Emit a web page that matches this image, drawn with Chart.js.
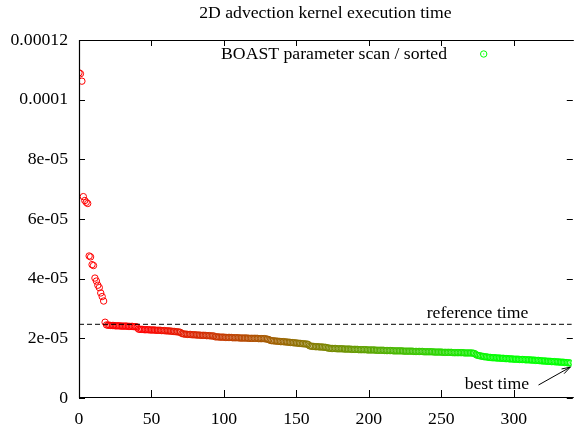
<!DOCTYPE html>
<html><head><meta charset="utf-8">
<script src="https://cdn.jsdelivr.net/npm/chart.js@4.4.0/dist/chart.umd.min.js"></script>
<style>html,body{margin:0;padding:0;background:#fff;overflow:hidden}#wrap{width:576px;height:428px}</style>
</head><body><div id="wrap"><canvas id="c" width="576" height="428"></canvas></div>
<script>
const chartTitle = '2D advection kernel execution time';
const seriesName = 'BOAST parameter scan / sorted';
const refLabel = 'reference time';
const bestLabel = 'best time';
// execution times, in units of 1e-5 s, sorted (index 0..339)
const timesE5 = [
10.90,10.87,10.62,6.75,6.62,6.56,6.52,4.76,4.73,4.47,
4.44,4.02,3.92,3.78,3.70,3.52,3.40,3.25,2.54,2.45,
2.44,2.44,2.43,2.43,2.43,2.42,2.42,2.42,2.42,2.41,
2.41,2.41,2.41,2.41,2.40,2.40,2.40,2.40,2.39,2.39,
2.38,2.31,2.30,2.30,2.30,2.29,2.29,2.29,2.29,2.28,
2.28,2.28,2.28,2.27,2.27,2.27,2.27,2.26,2.26,2.26,
2.25,2.25,2.25,2.24,2.24,2.23,2.23,2.22,2.22,2.21,
2.20,2.16,2.15,2.14,2.14,2.13,2.13,2.13,2.12,2.12,
2.12,2.11,2.11,2.11,2.10,2.10,2.10,2.10,2.09,2.09,
2.09,2.08,2.08,2.08,2.05,2.05,2.05,2.04,2.04,2.04,
2.04,2.03,2.03,2.03,2.03,2.03,2.02,2.02,2.02,2.02,
2.02,2.01,2.01,2.01,2.01,2.01,2.01,2.00,2.00,2.00,
2.00,2.00,2.00,2.00,1.99,1.99,1.99,1.99,1.99,1.98,
1.97,1.96,1.93,1.92,1.92,1.91,1.91,1.90,1.90,1.89,
1.89,1.89,1.88,1.88,1.87,1.87,1.86,1.86,1.85,1.85,
1.84,1.84,1.83,1.83,1.82,1.82,1.81,1.81,1.80,1.75,
1.74,1.73,1.73,1.72,1.72,1.72,1.71,1.71,1.71,1.70,
1.70,1.69,1.67,1.67,1.66,1.66,1.66,1.66,1.65,1.65,
1.65,1.65,1.65,1.64,1.64,1.64,1.64,1.64,1.63,1.63,
1.63,1.63,1.63,1.62,1.62,1.62,1.62,1.62,1.62,1.61,
1.61,1.61,1.61,1.61,1.61,1.60,1.60,1.60,1.60,1.60,
1.60,1.59,1.59,1.59,1.59,1.59,1.59,1.58,1.58,1.58,
1.58,1.58,1.58,1.58,1.57,1.57,1.57,1.57,1.57,1.57,
1.57,1.56,1.56,1.56,1.56,1.56,1.56,1.56,1.55,1.55,
1.55,1.55,1.55,1.55,1.55,1.54,1.54,1.54,1.54,1.54,
1.54,1.53,1.53,1.53,1.53,1.53,1.53,1.53,1.52,1.52,
1.52,1.52,1.52,1.52,1.52,1.52,1.51,1.51,1.51,1.51,
1.51,1.51,1.50,1.49,1.45,1.43,1.42,1.41,1.40,1.39,
1.38,1.38,1.37,1.36,1.36,1.35,1.35,1.35,1.34,1.34,
1.34,1.33,1.33,1.33,1.32,1.32,1.32,1.31,1.31,1.31,
1.30,1.30,1.30,1.30,1.29,1.29,1.29,1.29,1.28,1.28,
1.28,1.28,1.27,1.27,1.27,1.26,1.26,1.26,1.25,1.25,
1.24,1.24,1.24,1.23,1.23,1.23,1.22,1.22,1.22,1.21,
1.21,1.21,1.20,1.20,1.20,1.19,1.19,1.18,1.18,1.17
];
const referenceTimeE5 = 2.47;
const xTicks = [0, 50, 100, 150, 200, 250, 300];
const yTicks = [0, 2e-5, 4e-5, 6e-5, 8e-5, 1e-4, 1.2e-4];
const yTickLabels = ['0', '2e-05', '4e-05', '6e-05', '8e-05', '0.0001', '0.00012'];

const UNIT = 1e-5;
const times = timesE5.map(v => v * UNIT);
const refTime = referenceTimeE5 * UNIT;
const N = times.length;
const X_MAX = 340;

const FONT_FAMILY = "'Liberation Serif','Times New Roman',serif";
const FONT = {family: FONT_FAMILY, size: 17.7, weight: 'normal'};

// red -> green palette over the sorted index (range compressed toward the middle)
const PAL_LO = 0.13, PAL_SPAN = 0.72;
function pointColor(i) {
  let t = (i / (N - 1) - PAL_LO) / PAL_SPAN;
  t = Math.max(0, Math.min(1, t));
  return 'rgb(' + Math.round(255 * (1 - t)) + ',' + Math.round(255 * t) + ',0)';
}

const framePlugin = {
  id: 'frame',
  afterDraw(chart) {
    const {ctx, chartArea: a, scales: {x, y}} = chart;
    ctx.save();
    ctx.strokeStyle = '#000';
    ctx.lineWidth = 1.2;
    ctx.beginPath();
    ctx.moveTo(a.right + 2, a.top + 0.5);
    ctx.lineTo(a.left + 0.5, a.top + 0.5);
    ctx.lineTo(a.left + 0.5, a.bottom - 0.5);
    ctx.lineTo(a.right + 2, a.bottom - 0.5);
    ctx.stroke();
    ctx.lineWidth = 1;
    ctx.beginPath();
    xTicks.forEach(v => {
      const px = Math.round(x.getPixelForValue(v)) + 0.5;
      ctx.moveTo(px, a.bottom); ctx.lineTo(px, a.bottom - 8);
      ctx.moveTo(px, a.top); ctx.lineTo(px, a.top + 6);
    });
    yTicks.forEach(v => {
      const py = Math.round(y.getPixelForValue(v)) + 0.5;
      ctx.moveTo(a.left, py); ctx.lineTo(a.left + 6, py);
      ctx.moveTo(a.right + 1, py); ctx.lineTo(a.right - 5, py);
    });
    ctx.stroke();

    ctx.fillStyle = '#000';
    ctx.font = '17.7px ' + FONT_FAMILY;
    ctx.textAlign = 'right';
    ctx.textBaseline = 'middle';
    ctx.fillText(seriesName, 447, 54);
    ctx.strokeStyle = 'rgb(0,255,0)';
    ctx.lineWidth = 1;
    ctx.beginPath(); ctx.arc(483.7, 54, 3.2, 0, Math.PI * 2); ctx.stroke();
    ctx.fillStyle = 'rgb(0,255,0)';
    ctx.fillRect(483.2, 53.5, 1, 1);

    ctx.fillStyle = '#000';
    ctx.textAlign = 'center';
    ctx.fillText(refLabel, 477.5, y.getPixelForValue(refTime) - 10.5);

    ctx.textAlign = 'right';
    ctx.fillText(bestLabel, 529, 384);
    const tipX = x.getPixelForValue(N - 1);
    const tipY = y.getPixelForValue(times[N - 1]) + 4;
    const tailX = 538.5, tailY = 385;
    ctx.strokeStyle = '#000';
    ctx.lineWidth = 1;
    ctx.beginPath(); ctx.moveTo(tailX, tailY); ctx.lineTo(tipX, tipY); ctx.stroke();
    const ang = Math.atan2(tipY - tailY, tipX - tailX);
    const hl = 9, ha = 0.3;
    ctx.beginPath();
    ctx.moveTo(tipX - hl * Math.cos(ang - ha), tipY - hl * Math.sin(ang - ha));
    ctx.lineTo(tipX, tipY);
    ctx.lineTo(tipX - hl * Math.cos(ang + ha), tipY - hl * Math.sin(ang + ha));
    ctx.stroke();
    ctx.restore();
  }
};

new Chart(document.getElementById('c'), {
  type: 'scatter',
  data: {
    datasets: [
      {
        label: seriesName,
        data: times.map((v, i) => ({x: i, y: v})),
        showLine: false,
        pointStyle: 'circle',
        pointRadius: 3.2,
        pointHoverRadius: 3.2,
        pointBorderWidth: 1,
        pointBackgroundColor: 'rgba(0,0,0,0)',
        pointBorderColor: c => pointColor(c.dataIndex),
        order: 2
      },
      {
        label: refLabel,
        data: [{x: 0, y: refTime}, {x: X_MAX, y: refTime}],
        showLine: true,
        borderColor: '#000',
        borderWidth: 1,
        borderDash: [5, 3],
        pointRadius: 0,
        pointHoverRadius: 0,
        order: 1
      }
    ]
  },
  options: {
    responsive: false,
    animation: false,
    events: [],
    layout: {padding: 0},
    plugins: {
      legend: {display: false},
      tooltip: {enabled: false},
      title: {
        display: true, text: chartTitle, fullSize: false, color: '#000',
        font: FONT, padding: {top: 2.4, bottom: 16.36}
      }
    },
    scales: {
      x: {
        type: 'linear', position: 'bottom', min: 0, max: X_MAX,
        afterBuildTicks: s => { s.ticks = xTicks.map(v => ({value: v})); },
        afterFit: s => { s.height = 30; },
        grid: {display: false, drawTicks: false},
        border: {display: false},
        ticks: {color: '#000', font: FONT, padding: 11, maxRotation: 0, autoSkip: false}
      },
      y: {
        type: 'linear', position: 'left', min: 0, max: 1.2e-4,
        afterBuildTicks: s => { s.ticks = yTicks.map(v => ({value: v})); },
        afterFit: s => { s.width = 79; },
        grid: {display: false, drawTicks: false},
        border: {display: false},
        ticks: {color: '#000', font: FONT, padding: 11, autoSkip: false,
                callback: (v, i) => yTickLabels[i]}
      }
    }
  },
  plugins: [framePlugin]
});
</script>
</body></html>
